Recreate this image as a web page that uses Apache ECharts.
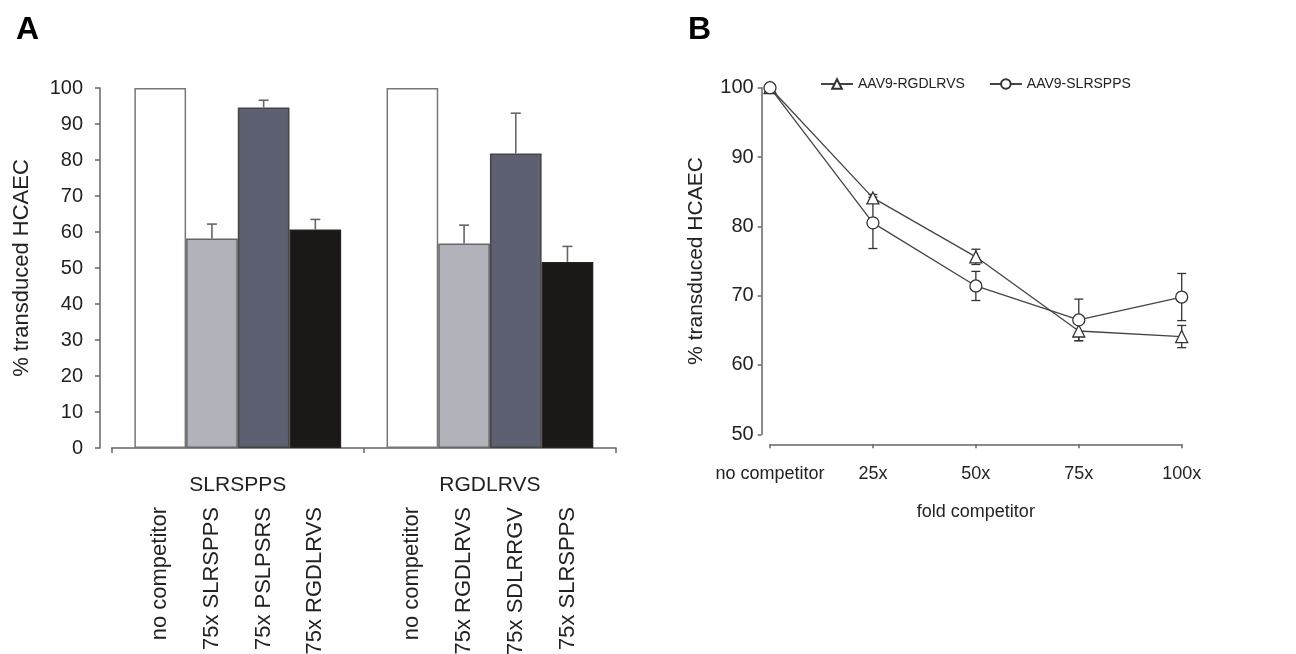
<!DOCTYPE html>
<html><head><meta charset="utf-8">
<script src="https://cdn.jsdelivr.net/npm/echarts@6/dist/echarts.min.js"></script>
<style>html,body{margin:0;padding:0;background:#fff}#c{width:1296px;height:654px}</style>
</head><body><div id="c"></div>
<script>
// ---------- Panel A data ----------
const groupsA = ['SLRSPPS', 'RGDLRVS'];
const barSeriesNamesA = ['no competitor', 'competitor 1', 'competitor 2', 'competitor 3'];
const barLabelsA = [
  ['no competitor', 'no competitor'],
  ['75x SLRSPPS', '75x RGDLRVS'],
  ['75x PSLPSRS', '75x SDLRRGV'],
  ['75x RGDLRVS', '75x SLRSPPS']
];
const valuesA0 = [100, 100];
const valuesA1 = [58.2, 56.8];
const valuesA2 = [94.6, 81.8];
const valuesA3 = [60.7, 51.7];
const errA0 = [0, 0];
const errA1 = [4.0, 5.1];
const errA2 = [2.0, 11.2];
const errA3 = [2.8, 4.3];
const yMinA = 0, yMaxA = 100, yStepA = 10;

// ---------- Panel B data ----------
const foldCats = ['no competitor', '25x', '50x', '75x', '100x'];
const rgdName = 'AAV9-RGDLRVS';
const slrName = 'AAV9-SLRSPPS';
const rgdValues = [100, 84.1, 75.6, 64.9, 64.1];
const rgdErr = [0, 0.5, 1.1, 1.4, 1.6];
const slrValues = [100, 80.5, 71.4, 66.5, 69.8];
const slrErr = [0, 3.7, 2.1, 3.0, 3.4];
const yMinB = 50, yMaxB = 100, yStepB = 10;

// ---------- styles ----------
const FONT = 'Liberation Sans, Arial, Helvetica, sans-serif';
const TXT = '#222';
const AX = '#666';
const barFill = ['#ffffff', '#b0b3ba', '#5d6070', '#1b1817'];
const barBorder = ['#777', '#666', '#444', '#222'];
const BAR_FRAC = 0.205;

const valuesA = [valuesA0, valuesA1, valuesA2, valuesA3];
const errA = [errA0, errA1, errA2, errA3];

const chart = echarts.init(document.getElementById('c'), null, {renderer: 'canvas'});

const series = [];
// bars
valuesA.forEach((vals, k) => {
  series.push({
    type: 'bar', name: barSeriesNamesA[k], xAxisIndex: 0, yAxisIndex: 0,
    data: vals, barWidth: (BAR_FRAC * 100) + '%', barGap: '0%',
    itemStyle: {color: barFill[k], borderColor: barBorder[k], borderWidth: 1.5},
    label: {
      show: true, position: 'bottom', distance: 59, rotate: 90,
      align: 'right', verticalAlign: 'middle',
      fontFamily: FONT, fontSize: 22, color: TXT,
      formatter: p => barLabelsA[k][p.dataIndex]
    },
    silent: true, animation: false, z: 2
  });
});
// error bars A
valuesA.forEach((vals, k) => {
  series.push({
    type: 'custom', xAxisIndex: 0, yAxisIndex: 0, animation: false, silent: true, z: 3,
    data: vals.map((v, i) => [i, v, errA[k][i]]),
    renderItem: (params, api) => {
      const e = api.value(2);
      if (!e) return null;
      const base = api.coord([api.value(0), api.value(1)]);
      const top = api.coord([api.value(0), api.value(1) + e]);
      const bw = api.size([1, 0])[0] * BAR_FRAC;
      const cx = base[0] + (k - 1.5) * bw;
      const cap = 5;
      const st = {stroke: '#666', lineWidth: 1.6};
      return {type: 'group', children: [
        {type: 'line', shape: {x1: cx, y1: base[1], x2: cx, y2: top[1]}, style: st},
        {type: 'line', shape: {x1: cx - cap, y1: top[1], x2: cx + cap, y2: top[1]}, style: st}
      ]};
    }
  });
});
// error bars B
function errRender() {
  return (params, api) => {
    const e = api.value(2);
    if (!e) return null;
    const hi = api.coord([api.value(0), api.value(1) + e]);
    const lo = api.coord([api.value(0), api.value(1) - e]);
    const cx = hi[0], cap = 4.5;
    const st = {stroke: '#333', lineWidth: 1.3};
    return {type: 'group', children: [
      {type: 'line', shape: {x1: cx, y1: lo[1], x2: cx, y2: hi[1]}, style: st},
      {type: 'line', shape: {x1: cx - cap, y1: hi[1], x2: cx + cap, y2: hi[1]}, style: st},
      {type: 'line', shape: {x1: cx - cap, y1: lo[1], x2: cx + cap, y2: lo[1]}, style: st}
    ]};
  };
}
series.push({
  type: 'custom', xAxisIndex: 1, yAxisIndex: 1, animation: false, silent: true, z: 2,
  data: rgdValues.map((v, i) => [i, v, rgdErr[i]]), renderItem: errRender()
});
series.push({
  type: 'custom', xAxisIndex: 1, yAxisIndex: 1, animation: false, silent: true, z: 2,
  data: slrValues.map((v, i) => [i, v, slrErr[i]]), renderItem: errRender()
});
// lines B
series.push({
  type: 'line', name: rgdName, xAxisIndex: 1, yAxisIndex: 1, data: rgdValues,
  symbol: 'triangle', symbolSize: 12, showAllSymbol: true,
  lineStyle: {color: '#444', width: 1.3},
  itemStyle: {color: '#fff', borderColor: '#333', borderWidth: 1.3},
  animation: false, silent: true, z: 4
});
series.push({
  type: 'line', name: slrName, xAxisIndex: 1, yAxisIndex: 1, data: slrValues,
  symbol: 'circle', symbolSize: 12, showAllSymbol: true,
  lineStyle: {color: '#444', width: 1.3},
  itemStyle: {color: '#fff', borderColor: '#333', borderWidth: 1.3},
  animation: false, silent: true, z: 4
});

const option = {
  backgroundColor: '#fff',
  animation: false,
  textStyle: {fontFamily: FONT, color: TXT},
  graphic: [
    {type: 'text', left: 16, top: 14, style: {text: 'A', font: 'bold 32px ' + FONT, fill: '#000'}},
    {type: 'text', left: 688, top: 14, style: {text: 'B', font: 'bold 32px ' + FONT, fill: '#000'}}
  ],
  legend: {
    data: [rgdName, slrName], left: 815, top: 72, itemWidth: 32, itemHeight: 12, itemGap: 24,
    textStyle: {fontFamily: FONT, fontSize: 14, color: TXT}, selectedMode: false
  },
  grid: [
    {left: 111.7, top: 88, width: 504.3, height: 360},
    {left: 770, top: 87.7, width: 411.7, height: 346.6}
  ],
  xAxis: [
    {
      type: 'category', gridIndex: 0, data: groupsA, offset: 10,
      axisLine: {lineStyle: {color: AX, width: 1.5}},
      axisTick: {show: true, length: 5, alignWithLabel: false, lineStyle: {color: AX, width: 1.5}},
      axisLabel: {fontFamily: FONT, fontSize: 21, color: TXT, margin: 17}
    },
    {
      type: 'category', gridIndex: 1, data: foldCats, boundaryGap: false, offset: 10,
      axisLine: {lineStyle: {color: AX, width: 1.5}},
      axisTick: {show: true, length: 4, lineStyle: {color: AX, width: 1.5}},
      axisLabel: {fontFamily: FONT, fontSize: 18, color: TXT, margin: 21, interval: 0},
      name: 'fold competitor', nameLocation: 'middle', nameGap: 59,
      nameTextStyle: {fontFamily: FONT, fontSize: 18, color: TXT}
    }
  ],
  yAxis: [
    {
      type: 'value', gridIndex: 0, min: yMinA, max: yMaxA, interval: yStepA, offset: 11.7,
      axisLine: {show: true, lineStyle: {color: AX, width: 1.5}},
      axisTick: {show: true, length: 5, lineStyle: {color: AX, width: 1.5}},
      splitLine: {show: false},
      axisLabel: {fontFamily: FONT, fontSize: 20, color: TXT, margin: 17},
      name: '% transduced HCAEC', nameLocation: 'middle', nameGap: 67,
      nameTextStyle: {fontFamily: FONT, fontSize: 22, color: TXT}
    },
    {
      type: 'value', gridIndex: 1, min: yMinB, max: yMaxB, interval: yStepB, offset: 8.3,
      axisLine: {show: true, lineStyle: {color: AX, width: 1.5}},
      axisTick: {show: true, length: 4, lineStyle: {color: AX, width: 1.5}},
      splitLine: {show: false},
      axisLabel: {fontFamily: FONT, fontSize: 20, color: TXT, margin: 8},
      name: '% transduced HCAEC', nameLocation: 'middle', nameGap: 55,
      nameTextStyle: {fontFamily: FONT, fontSize: 21, color: TXT}
    }
  ],
  series: series
};
chart.setOption(option);
</script>
</body></html>
